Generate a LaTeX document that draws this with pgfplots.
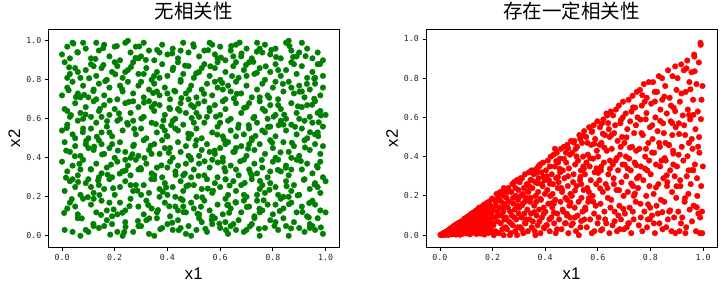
\documentclass[border=0pt]{standalone}
\usepackage{fontspec}
\setmainfont{Liberation Sans}
\newfontfamily\cjk{Noto Sans CJK SC}
\newfontfamily\tickfont{DejaVu Sans Mono}
\usepackage{pgfplots}
\pgfplotsset{compat=1.18}
\definecolor{mplgreen}{HTML}{008000}
\definecolor{mplred}{HTML}{FF0000}
\definecolor{ticktext}{HTML}{262626}
\pgfplotsset{
  myaxis/.style={
    scale only axis, width=291pt, height=218pt,
    anchor=south west,
    axis line style={line width=0.8pt, black},
    tick align=outside, major tick length=3.5pt,
    tick style={line width=0.8pt, black},
    xtick={0,0.2,0.4,0.6,0.8,1.0},
    ytick={0,0.2,0.4,0.6,0.8,1.0},
    xticklabels={0.0,0.2,0.4,0.6,0.8,1.0},
    yticklabels={0.0,0.2,0.4,0.6,0.8,1.0},
    xtick pos=bottom, ytick pos=left,
    tick label style={font=\tickfont\fontsize{8.3}{9}\selectfont, text=ticktext},
    title style={font=\cjk\fontsize{19.5}{20}\selectfont, at={(axis description cs:0.5,1.021)}, anchor=base},
    xlabel style={font=\fontsize{16.7}{17}\selectfont, at={(axis description cs:0.5,-0.147)}, anchor=base},
    ylabel style={font=\fontsize{16.7}{17}\selectfont, at={(axis description cs:-0.097,0.5)}, anchor=base},
    xlabel={x1}, ylabel={x2},
  }
}
\begin{document}
\begin{tikzpicture}
\useasboundingbox (0,0) rectangle (725pt,288pt);
\begin{axis}[myaxis, at={(48.3pt,40.7pt)},
  xmin=-0.052, xmax=1.052, ymin=-0.059, ymax=1.059,
  title={无相关性}]
\addplot[only marks, mark=*, mark size=2.8pt, color=mplgreen, mark options={fill=mplgreen, draw=mplgreen}] coordinates {
(0.01,0.03) (0.04,0.02) (0.06,0.09) (0.07,0.00) (0.09,0.03)
(0.10,0.02) (0.12,0.05) (0.14,0.04) (0.16,0.05) (0.17,0.08) (0.19,0.06)
(0.21,0.02) (0.23,0.00) (0.24,0.07) (0.27,0.02) (0.29,0.05)
(0.30,0.05) (0.32,0.08) (0.35,0.00) (0.36,0.09) (0.38,0.04) (0.33,0.01)
(0.40,0.06) (0.42,0.03) (0.44,0.08) (0.47,0.01) (0.48,0.05) (0.49,0.00) (0.45,0.04)
(0.51,0.03) (0.53,0.07) (0.55,0.02) (0.57,0.06) (0.58,0.09) (0.52,0.09)
(0.60,0.04) (0.62,0.07) (0.63,0.01) (0.64,0.05) (0.65,0.06) (0.67,0.08) (0.69,0.02) (0.66,0.03)
(0.70,0.03) (0.72,0.06) (0.75,0.00) (0.77,0.04) (0.79,0.08) (0.73,0.09)
(0.81,0.07) (0.82,0.03) (0.85,0.05) (0.86,0.00) (0.88,0.07) (0.84,0.09)
(0.90,0.04) (0.92,0.02) (0.94,0.06) (0.95,0.05) (0.96,0.03) (0.99,0.01) (0.94,0.04) (0.97,0.09)
(0.02,0.14) (0.05,0.15) (0.06,0.11) (0.08,0.19) (0.03,0.17)
(0.11,0.16) (0.13,0.12) (0.15,0.18) (0.17,0.13) (0.19,0.10) (0.12,0.19) (0.18,0.17)
(0.22,0.17) (0.24,0.13) (0.26,0.19) (0.29,0.15) (0.21,0.11)
(0.31,0.11) (0.32,0.18) (0.34,0.14) (0.36,0.12) (0.39,0.17) (0.37,0.20)
(0.41,0.10) (0.43,0.15) (0.45,0.19) (0.47,0.12) (0.49,0.17) (0.44,0.13) (0.46,0.15)
(0.50,0.14) (0.52,0.11) (0.54,0.18) (0.56,0.13) (0.59,0.16) (0.57,0.10)
(0.61,0.11) (0.62,0.19) (0.64,0.14) (0.66,0.17) (0.68,0.12) (0.63,0.16) (0.69,0.18)
(0.71,0.15) (0.73,0.10) (0.74,0.18) (0.76,0.13) (0.78,0.16) (0.75,0.12)
(0.80,0.11) (0.83,0.19) (0.84,0.14) (0.87,0.17) (0.89,0.12) (0.81,0.16) (0.86,0.20)
(0.91,0.15) (0.93,0.10) (0.95,0.18) (0.98,0.13) (1.00,0.12) (0.96,0.16)
(0.01,0.23) (0.03,0.28) (0.05,0.25) (0.07,0.21) (0.09,0.27) (0.04,0.29)
(0.10,0.29) (0.12,0.22) (0.14,0.26) (0.16,0.24) (0.18,0.29) (0.11,0.25)
(0.20,0.21) (0.22,0.25) (0.24,0.28) (0.27,0.23) (0.26,0.26) (0.28,0.26)
(0.31,0.26) (0.33,0.22) (0.35,0.29) (0.37,0.24) (0.39,0.27) (0.30,0.21)
(0.40,0.21) (0.42,0.25) (0.45,0.28) (0.46,0.23) (0.48,0.26) (0.49,0.30) (0.43,0.20)
(0.51,0.20) (0.53,0.24) (0.55,0.29) (0.57,0.22) (0.58,0.27) (0.50,0.26)
(0.60,0.25) (0.63,0.21) (0.65,0.28) (0.66,0.23) (0.68,0.26) (0.62,0.29) (0.69,0.21)
(0.70,0.20) (0.72,0.29) (0.75,0.24) (0.77,0.22) (0.79,0.27) (0.76,0.26) (0.74,0.21)
(0.81,0.25) (0.82,0.21) (0.85,0.28) (0.87,0.23) (0.88,0.26) (0.84,0.20)
(0.90,0.21) (0.92,0.29) (0.94,0.24) (0.96,0.27) (0.98,0.22) (1.00,0.28) (0.97,0.25)
(0.00,0.38) (0.02,0.33) (0.04,0.36) (0.06,0.31) (0.08,0.39) (0.07,0.34)
(0.11,0.34) (0.13,0.37) (0.15,0.32) (0.17,0.35) (0.19,0.30) (0.14,0.30)
(0.21,0.38) (0.23,0.33) (0.25,0.36) (0.26,0.31) (0.28,0.39) (0.24,0.39) (0.29,0.34)
(0.30,0.34) (0.32,0.37) (0.34,0.32) (0.36,0.35) (0.38,0.30) (0.35,0.31)
(0.41,0.38) (0.43,0.33) (0.44,0.36) (0.46,0.31) (0.49,0.39) (0.40,0.35) (0.47,0.37)
(0.50,0.34) (0.52,0.37) (0.54,0.31) (0.56,0.35) (0.59,0.30) (0.57,0.39)
(0.61,0.38) (0.62,0.33) (0.64,0.36) (0.67,0.31) (0.69,0.39) (0.66,0.34)
(0.71,0.34) (0.73,0.37) (0.74,0.32) (0.76,0.35) (0.78,0.30) (0.79,0.33) (0.72,0.31)
(0.80,0.38) (0.83,0.33) (0.85,0.36) (0.86,0.31) (0.89,0.39) (0.82,0.39) (0.87,0.34)
(0.91,0.34) (0.93,0.37) (0.95,0.32) (0.97,0.35) (0.99,0.30) (0.98,0.38)
(0.01,0.48) (0.03,0.43) (0.05,0.46) (0.07,0.41) (0.09,0.47)
(0.12,0.44) (0.14,0.49) (0.16,0.42) (0.18,0.45) (0.10,0.45) (0.19,0.47) (0.15,0.47)
(0.20,0.40) (0.22,0.48) (0.24,0.43) (0.27,0.46) (0.29,0.41) (0.26,0.40)
(0.31,0.49) (0.33,0.44) (0.35,0.47) (0.37,0.42) (0.39,0.45) (0.38,0.49) (0.34,0.42)
(0.42,0.40) (0.44,0.48) (0.45,0.43) (0.47,0.46) (0.48,0.41) (0.41,0.45)
(0.51,0.49) (0.53,0.44) (0.55,0.47) (0.58,0.42) (0.52,0.41) (0.56,0.43)
(0.60,0.45) (0.61,0.40) (0.63,0.48) (0.65,0.43) (0.68,0.46) (0.66,0.45) (0.62,0.47)
(0.70,0.41) (0.72,0.49) (0.73,0.44) (0.75,0.47) (0.77,0.42) (0.71,0.47) (0.79,0.49)
(0.80,0.45) (0.81,0.40) (0.84,0.48) (0.86,0.43) (0.88,0.46) (0.87,0.40)
(0.90,0.41) (0.92,0.49) (0.94,0.44) (0.96,0.47) (0.98,0.42) (0.99,0.46)
(0.00,0.54) (0.02,0.57) (0.04,0.52) (0.06,0.59) (0.08,0.55) (0.05,0.50)
(0.10,0.50) (0.13,0.58) (0.15,0.53) (0.17,0.56) (0.19,0.51) (0.11,0.55) (0.18,0.53)
(0.21,0.59) (0.23,0.54) (0.25,0.57) (0.28,0.52) (0.27,0.59)
(0.30,0.55) (0.32,0.50) (0.34,0.58) (0.36,0.53) (0.38,0.56) (0.39,0.54)
(0.40,0.51) (0.42,0.59) (0.44,0.54) (0.46,0.57) (0.49,0.52) (0.48,0.50) (0.43,0.55)
(0.51,0.55) (0.53,0.50) (0.54,0.58) (0.57,0.53) (0.59,0.56) (0.50,0.58)
(0.61,0.51) (0.63,0.59) (0.64,0.54) (0.67,0.57) (0.69,0.52) (0.60,0.58) (0.66,0.51)
(0.71,0.55) (0.72,0.50) (0.74,0.58) (0.77,0.53) (0.79,0.56) (0.76,0.54)
(0.81,0.51) (0.83,0.59) (0.85,0.54) (0.87,0.57) (0.89,0.52) (0.84,0.57)
(0.91,0.55) (0.93,0.50) (0.95,0.58) (0.97,0.53) (0.99,0.56) (0.92,0.59) (0.96,0.52)
(0.01,0.65) (0.03,0.61) (0.05,0.68) (0.07,0.63) (0.09,0.66) (0.08,0.60) (0.02,0.64)
(0.11,0.61) (0.12,0.69) (0.14,0.64) (0.16,0.67) (0.18,0.62) (0.15,0.61)
(0.20,0.65) (0.22,0.60) (0.24,0.68) (0.26,0.63) (0.29,0.66) (0.27,0.69)
(0.31,0.61) (0.33,0.69) (0.35,0.64) (0.37,0.67) (0.39,0.62) (0.34,0.66)
(0.41,0.65) (0.43,0.60) (0.45,0.68) (0.47,0.63) (0.44,0.65) (0.49,0.67)
(0.50,0.66) (0.52,0.61) (0.54,0.69) (0.56,0.64) (0.58,0.67) (0.55,0.61) (0.51,0.63)
(0.60,0.62) (0.62,0.65) (0.64,0.60) (0.66,0.68) (0.68,0.63) (0.61,0.69)
(0.70,0.66) (0.73,0.61) (0.75,0.69) (0.77,0.64) (0.79,0.67) (0.78,0.60) (0.71,0.68)
(0.81,0.62) (0.83,0.65) (0.85,0.60) (0.87,0.68) (0.89,0.63) (0.82,0.67)
(0.91,0.66) (0.94,0.61) (0.96,0.69) (0.98,0.64) (1.00,0.62) (0.93,0.67) (0.90,0.60) (0.97,0.63)
(0.00,0.72) (0.02,0.76) (0.04,0.79) (0.06,0.73) (0.08,0.77) (0.07,0.71)
(0.10,0.71) (0.12,0.75) (0.14,0.78) (0.16,0.72) (0.18,0.76) (0.13,0.70)
(0.21,0.70) (0.23,0.74) (0.25,0.79) (0.27,0.73) (0.29,0.77) (0.22,0.77)
(0.31,0.71) (0.33,0.75) (0.35,0.78) (0.37,0.72) (0.39,0.76) (0.30,0.79) (0.36,0.74)
(0.41,0.70) (0.43,0.74) (0.45,0.79) (0.47,0.73) (0.49,0.77) (0.40,0.73) (0.48,0.70)
(0.51,0.71) (0.53,0.75) (0.55,0.78) (0.57,0.72) (0.59,0.76) (0.58,0.79)
(0.62,0.70) (0.64,0.74) (0.66,0.79) (0.68,0.73) (0.63,0.77) (0.61,0.75)
(0.70,0.77) (0.72,0.71) (0.74,0.75) (0.76,0.78) (0.78,0.72) (0.75,0.71)
(0.80,0.76) (0.82,0.70) (0.84,0.74) (0.86,0.79) (0.88,0.73) (0.81,0.79) (0.87,0.76)
(0.90,0.77) (0.92,0.71) (0.94,0.75) (0.96,0.78) (0.98,0.72) (0.99,0.76) (0.91,0.74)
(0.01,0.89) (0.03,0.83) (0.05,0.86) (0.07,0.81) (0.09,0.85) (0.06,0.84) (0.02,0.81)
(0.11,0.88) (0.13,0.82) (0.15,0.86) (0.17,0.80) (0.19,0.84) (0.12,0.87)
(0.21,0.87) (0.23,0.81) (0.25,0.85) (0.27,0.89) (0.29,0.83) (0.20,0.89) (0.24,0.84)
(0.32,0.86) (0.34,0.80) (0.36,0.84) (0.38,0.88) (0.37,0.81) (0.31,0.83)
(0.40,0.82) (0.42,0.85) (0.44,0.89) (0.46,0.83) (0.48,0.87) (0.45,0.80)
(0.50,0.81) (0.52,0.84) (0.54,0.88) (0.56,0.82) (0.58,0.86) (0.53,0.86) (0.59,0.89)
(0.60,0.80) (0.62,0.84) (0.65,0.87) (0.67,0.81) (0.69,0.85) (0.66,0.89)
(0.71,0.89) (0.73,0.83) (0.75,0.86) (0.77,0.80) (0.79,0.84) (0.70,0.82)
(0.81,0.88) (0.83,0.82) (0.85,0.85) (0.87,0.89) (0.89,0.83) (0.82,0.85) (0.88,0.88)
(0.91,0.87) (0.93,0.81) (0.95,0.84) (0.97,0.88) (0.99,0.82) (0.96,0.81)
(0.00,0.93) (0.02,0.97) (0.04,0.99) (0.06,0.94) (0.08,0.99) (0.09,0.96) (0.03,0.91)
(0.11,0.91) (0.14,0.95) (0.16,0.98) (0.18,0.92) (0.13,0.99)
(0.20,0.97) (0.22,0.90) (0.24,0.99) (0.26,0.94) (0.28,0.97) (0.29,0.91) (0.25,1.00)
(0.30,0.92) (0.31,0.99) (0.33,0.95) (0.35,0.90) (0.38,0.98) (0.37,0.94)
(0.40,0.93) (0.42,0.96) (0.44,0.91) (0.46,0.99) (0.48,0.94) (0.45,0.95)
(0.50,0.97) (0.52,0.92) (0.54,0.95) (0.56,0.99) (0.58,0.93) (0.59,0.91) (0.57,0.98)
(0.60,0.97) (0.62,0.90) (0.64,0.95) (0.66,0.98) (0.68,0.92) (0.65,0.92)
(0.70,0.96) (0.72,0.91) (0.74,0.99) (0.76,0.94) (0.77,0.98) (0.79,0.93) (0.75,0.96)
(0.81,0.96) (0.83,0.91) (0.85,0.99) (0.87,0.95) (0.89,0.92) (0.86,1.00)
(0.91,0.99) (0.93,0.96) (0.95,0.91) (0.97,0.94) (0.99,0.90) (0.90,0.94)
(0.053,0.712) (0.137,0.284) (0.922,0.453) (0.418,0.067) (0.681,0.935) (0.274,0.548) (0.765,0.182) (0.349,0.819) (0.591,0.376) (0.016,0.437) (0.843,0.621) (0.472,0.254) (0.208,0.973) (0.634,0.118) (0.957,0.806) (0.385,0.592) (0.119,0.061) (0.706,0.447) (0.563,0.869) (0.241,0.335) (0.894,0.207) (0.327,0.158) (0.079,0.531) (0.652,0.704) (0.498,0.982) (0.781,0.558) (0.164,0.793) (0.936,0.094) (0.405,0.426) (0.573,0.231)
(0.027,0.864) (0.288,0.076) (0.819,0.338) (0.446,0.641) (0.693,0.271) (0.152,0.417) (0.974,0.582) (0.361,0.953) (0.527,0.149) (0.739,0.836) (0.098,0.198) (0.615,0.492) (0.254,0.687) (0.877,0.917) (0.431,0.312) (0.183,0.006) (0.726,0.604) (0.539,0.728) (0.313,0.399) (0.958,0.263) (0.066,0.369) (0.806,0.051) (0.467,0.873) (0.622,0.029) (0.229,0.118) (0.352,0.677) (0.901,0.739) (0.144,0.651) (0.758,0.389) (0.584,0.611)
(0.037,0.188) (0.479,0.524) (0.861,0.162) (0.212,0.437) (0.676,0.382) (0.395,0.248) (0.924,0.921) (0.127,0.907) (0.544,0.036) (0.794,0.953) (0.301,0.601) (0.658,0.173) (0.018,0.553) (0.751,0.281) (0.426,0.744) (0.967,0.359) (0.194,0.244) (0.603,0.914) (0.336,0.462) (0.884,0.559) (0.075,0.089) (0.518,0.307) (0.713,0.049) (0.262,0.866) (0.949,0.672) (0.407,0.151) (0.171,0.588) (0.829,0.428) (0.559,0.655) (0.286,0.231)
(0.645,0.819) (0.043,0.986) (0.373,0.034) (0.912,0.122) (0.228,0.752) (0.786,0.708) (0.487,0.402) (0.109,0.342) (0.668,0.554) (0.318,0.902) (0.852,0.254) (0.532,0.197) (0.196,0.135) (0.979,0.881) (0.414,0.568) (0.061,0.276) (0.734,0.512) (0.597,0.062) (0.267,0.418) (0.838,0.779) (0.156,0.962) (0.453,0.706) (0.701,0.148) (0.941,0.531) (0.339,0.291) (0.089,0.622) (0.616,0.347) (0.773,0.869) (0.236,0.019) (0.509,0.833)
(0.982,0.043) (0.132,0.508) (0.691,0.656) (0.364,0.132) (0.803,0.611) (0.025,0.746) (0.458,0.183) (0.579,0.437) (0.219,0.319) (0.917,0.287) (0.346,0.732) (0.747,0.036) (0.103,0.808) (0.636,0.258) (0.492,0.604) (0.872,0.477) (0.181,0.694) (0.554,0.952) (0.293,0.971) (0.715,0.322) (0.049,0.408) (0.422,0.862) (0.957,0.703) (0.247,0.579) (0.608,0.784) (0.826,0.127) (0.377,0.361) (0.142,0.209) (0.674,0.991) (0.514,0.113)
(0.761,0.651) (0.008,0.117) (0.397,0.512) (0.863,0.973) (0.256,0.152) (0.589,0.519) (0.122,0.457) (0.938,0.168) (0.443,0.029) (0.698,0.876) (0.311,0.683) (0.787,0.236) (0.058,0.942) (0.541,0.382) (0.906,0.383) (0.202,0.828) (0.655,0.431) (0.382,0.226) (0.812,0.917) (0.148,0.107) (0.483,0.749) (0.972,0.511) (0.273,0.467) (0.627,0.157) (0.084,0.723) (0.739,0.944) (0.356,0.573) (0.517,0.678) (0.895,0.664) (0.186,0.365)
(0.621,0.289) (0.034,0.619) (0.466,0.319) (0.849,0.349) (0.279,0.912) (0.708,0.567) (0.157,0.876) (0.568,0.081) (0.418,0.935) (0.929,0.779) (0.241,0.046) (0.663,0.728) (0.092,0.487) (0.797,0.478) (0.331,0.089) (0.982,0.617) (0.506,0.463) (0.173,0.313) (0.749,0.139) (0.407,0.656) (0.869,0.038) (0.119,0.742) (0.642,0.973) (0.298,0.348) (0.553,0.242) (0.015,0.298) (0.822,0.567) (0.461,0.121) (0.726,0.892) (0.216,0.628)
};
\end{axis}
\begin{axis}[myaxis, at={(426pt,40.5pt)},
  xmin=-0.053, xmax=1.053, ymin=-0.063, ymax=1.048,
  title={存在一定相关性}]
\addplot[only marks, mark=*, mark size=2.8pt, color=mplred, mark options={fill=mplred, draw=mplred}] coordinates {
(0.002,0.001) (0.004,0.003) (0.006,0.002) (0.008,0.005) (0.009,0.001) (0.011,0.007) (0.012,0.003) (0.014,0.010) (0.016,0.004) (0.017,0.012) (0.019,0.008) (0.021,0.002) (0.022,0.015) (0.024,0.009) (0.026,0.020) (0.027,0.005) (0.029,0.013) (0.031,0.024) (0.032,0.001) (0.034,0.018) (0.036,0.030) (0.037,0.008) (0.039,0.022) (0.041,0.035) (0.042,0.012) (0.044,0.027) (0.046,0.004) (0.047,0.040) (0.049,0.019) (0.048,0.031)
(0.051,0.021) (0.052,0.046) (0.054,0.007) (0.055,0.033) (0.057,0.014) (0.058,0.052) (0.060,0.026) (0.061,0.003) (0.063,0.041) (0.064,0.018) (0.066,0.059) (0.067,0.030) (0.069,0.010) (0.070,0.048) (0.072,0.022) (0.073,0.064) (0.075,0.036) (0.076,0.002) (0.078,0.055) (0.079,0.015) (0.081,0.070) (0.082,0.040) (0.084,0.027) (0.085,0.006) (0.087,0.061) (0.088,0.033) (0.090,0.078) (0.091,0.012) (0.093,0.050) (0.094,0.085) (0.096,0.024) (0.097,0.066) (0.099,0.041)
(0.101,0.009) (0.103,0.057) (0.104,0.093) (0.106,0.031) (0.107,0.072) (0.109,0.016) (0.110,0.048) (0.112,0.101) (0.114,0.004) (0.115,0.083) (0.117,0.037) (0.118,0.061) (0.120,0.110) (0.121,0.022) (0.123,0.090) (0.125,0.045) (0.126,0.068) (0.128,0.012) (0.129,0.117) (0.131,0.053) (0.133,0.098) (0.134,0.029) (0.136,0.076) (0.137,0.125) (0.139,0.006) (0.141,0.064) (0.142,0.106) (0.144,0.040) (0.145,0.133) (0.147,0.085) (0.148,0.018) (0.149,0.140)
(0.151,0.050) (0.153,0.121) (0.154,0.008) (0.156,0.095) (0.157,0.034) (0.159,0.145) (0.161,0.072) (0.162,0.019) (0.164,0.112) (0.166,0.058) (0.167,0.155) (0.169,0.003) (0.170,0.087) (0.172,0.130) (0.174,0.042) (0.175,0.099) (0.177,0.163) (0.179,0.026) (0.180,0.070) (0.182,0.140) (0.184,0.011) (0.185,0.118) (0.187,0.055) (0.188,0.172) (0.190,0.083) (0.192,0.031) (0.193,0.150) (0.195,0.107) (0.197,0.064) (0.198,0.186) (0.199,0.015)
(0.201,0.13) (0.203,0.05) (0.206,0.18) (0.208,0.09) (0.211,0.02) (0.213,0.15) (0.215,0.21) (0.218,0.07) (0.220,0.11) (0.222,0.19) (0.224,0.01) (0.227,0.14) (0.229,0.22) (0.231,0.06) (0.233,0.17) (0.235,0.10) (0.237,0.03) (0.239,0.20) (0.241,0.12) (0.243,0.24) (0.245,0.08) (0.247,0.16) (0.249,0.04) (0.205,0.00) (0.217,0.12) (0.226,0.10) (0.234,0.21) (0.242,0.00) (0.212,0.17) (0.238,0.14) (0.246,0.22)
(0.251,0.09) (0.253,0.19) (0.255,0.03) (0.258,0.14) (0.260,0.24) (0.262,0.07) (0.264,0.17) (0.267,0.12) (0.269,0.01) (0.271,0.22) (0.273,0.10) (0.275,0.26) (0.277,0.05) (0.280,0.16) (0.282,0.27) (0.284,0.13) (0.286,0.02) (0.288,0.20) (0.290,0.08) (0.292,0.28) (0.294,0.15) (0.296,0.04) (0.298,0.23) (0.299,0.11) (0.257,0.22) (0.266,0.00) (0.278,0.19) (0.287,0.24) (0.293,0.00) (0.270,0.06) (0.283,0.09) (0.297,0.18)
(0.301,0.14) (0.303,0.27) (0.305,0.04) (0.308,0.20) (0.310,0.09) (0.312,0.29) (0.314,0.16) (0.317,0.01) (0.319,0.24) (0.321,0.11) (0.323,0.31) (0.325,0.06) (0.327,0.19) (0.330,0.26) (0.332,0.13) (0.334,0.02) (0.336,0.22) (0.338,0.32) (0.340,0.08) (0.342,0.17) (0.344,0.28) (0.346,0.11) (0.348,0.33) (0.349,0.04) (0.306,0.29) (0.315,0.21) (0.328,0.08) (0.339,0.25) (0.345,0.19) (0.322,0.17) (0.311,0.03)
(0.351,0.24) (0.353,0.07) (0.356,0.31) (0.358,0.15) (0.360,0.02) (0.362,0.27) (0.364,0.20) (0.367,0.10) (0.369,0.34) (0.371,0.05) (0.373,0.22) (0.375,0.29) (0.377,0.13) (0.380,0.36) (0.382,0.01) (0.384,0.18) (0.386,0.32) (0.388,0.09) (0.390,0.25) (0.392,0.37) (0.394,0.14) (0.396,0.04) (0.398,0.28) (0.399,0.21) (0.357,0.33) (0.366,0.17) (0.378,0.07) (0.387,0.26) (0.395,0.11) (0.363,0.00) (0.374,0.35)
(0.401,0.12) (0.403,0.33) (0.405,0.05) (0.408,0.23) (0.410,0.38) (0.412,0.16) (0.414,0.28) (0.417,0.02) (0.419,0.20) (0.421,0.40) (0.423,0.09) (0.425,0.31) (0.427,0.14) (0.430,0.26) (0.432,0.41) (0.434,0.06) (0.436,0.35) (0.438,0.18) (0.440,0.01) (0.442,0.29) (0.444,0.42) (0.446,0.11) (0.448,0.24) (0.449,0.37) (0.406,0.30) (0.416,0.08) (0.428,0.21) (0.437,0.44) (0.445,0.03) (0.418,0.35) (0.433,0.16)
(0.451,0.27) (0.453,0.08) (0.456,0.39) (0.458,0.17) (0.460,0.44) (0.462,0.03) (0.464,0.22) (0.467,0.33) (0.469,0.12) (0.471,0.45) (0.473,0.29) (0.475,0.06) (0.477,0.19) (0.480,0.37) (0.482,0.10) (0.484,0.46) (0.486,0.25) (0.488,0.01) (0.490,0.34) (0.492,0.15) (0.494,0.41) (0.496,0.21) (0.498,0.48) (0.499,0.05) (0.457,0.32) (0.466,0.13) (0.479,0.42) (0.487,0.30) (0.495,0.09) (0.461,0.24) (0.483,0.18)
(0.501,0.20) (0.503,0.42) (0.505,0.06) (0.508,0.31) (0.510,0.48) (0.512,0.14) (0.514,0.36) (0.517,0.02) (0.519,0.25) (0.521,0.45) (0.523,0.10) (0.525,0.38) (0.527,0.17) (0.530,0.51) (0.532,0.28) (0.534,0.04) (0.536,0.33) (0.538,0.19) (0.540,0.47) (0.542,0.12) (0.544,0.40) (0.546,0.23) (0.548,0.53) (0.549,0.08) (0.506,0.27) (0.516,0.44) (0.528,0.00) (0.537,0.26) (0.545,0.35) (0.513,0.09) (0.533,0.49)
(0.551,0.31) (0.553,0.13) (0.556,0.50) (0.558,0.04) (0.560,0.24) (0.562,0.41) (0.564,0.17) (0.567,0.55) (0.569,0.35) (0.571,0.08) (0.573,0.28) (0.575,0.46) (0.577,0.01) (0.580,0.20) (0.582,0.39) (0.584,0.56) (0.586,0.11) (0.588,0.32) (0.590,0.49) (0.592,0.15) (0.594,0.26) (0.596,0.43) (0.598,0.58) (0.599,0.06) (0.557,0.37) (0.566,0.22) (0.578,0.53) (0.587,0.02) (0.595,0.34) (0.561,0.47) (0.583,0.17)
(0.601,0.40) (0.603,0.09) (0.606,0.28) (0.608,0.55) (0.610,0.16) (0.612,0.33) (0.614,0.47) (0.617,0.03) (0.619,0.22) (0.621,0.59) (0.623,0.37) (0.625,0.12) (0.627,0.51) (0.630,0.26) (0.632,0.06) (0.634,0.43) (0.636,0.61) (0.638,0.19) (0.640,0.31) (0.642,0.54) (0.644,0.01) (0.646,0.38) (0.648,0.14) (0.649,0.63) (0.607,0.46) (0.616,0.57) (0.628,0.08) (0.637,0.24) (0.645,0.50) (0.613,0.35) (0.633,0.62)
(0.651,0.18) (0.653,0.44) (0.656,0.05) (0.658,0.61) (0.660,0.29) (0.662,0.52) (0.664,0.12) (0.667,0.38) (0.669,0.64) (0.671,0.23) (0.673,0.02) (0.675,0.48) (0.677,0.33) (0.680,0.66) (0.682,0.15) (0.684,0.41) (0.686,0.57) (0.688,0.08) (0.690,0.27) (0.692,0.50) (0.694,0.36) (0.696,0.68) (0.698,0.20) (0.699,0.03) (0.657,0.36) (0.666,0.56) (0.678,0.10) (0.687,0.45) (0.695,0.60) (0.661,0.26) (0.683,0.03)
(0.701,0.47) (0.703,0.11) (0.706,0.62) (0.708,0.30) (0.710,0.04) (0.712,0.54) (0.714,0.22) (0.717,0.69) (0.719,0.39) (0.721,0.14) (0.723,0.58) (0.725,0.33) (0.727,0.01) (0.730,0.45) (0.732,0.71) (0.734,0.25) (0.736,0.08) (0.738,0.52) (0.740,0.37) (0.742,0.65) (0.744,0.17) (0.746,0.43) (0.748,0.73) (0.749,0.29) (0.707,0.40) (0.716,0.06) (0.728,0.63) (0.737,0.20) (0.745,0.56) (0.713,0.34) (0.733,0.12)
(0.751,0.60) (0.753,0.24) (0.756,0.05) (0.758,0.44) (0.760,0.74) (0.762,0.16) (0.764,0.35) (0.767,0.66) (0.769,0.02) (0.771,0.51) (0.773,0.28) (0.775,0.77) (0.777,0.12) (0.780,0.40) (0.782,0.59) (0.784,0.20) (0.786,0.70) (0.788,0.33) (0.790,0.08) (0.792,0.47) (0.794,0.78) (0.796,0.25) (0.798,0.55) (0.799,0.14) (0.757,0.30) (0.766,0.52) (0.778,0.68) (0.787,0.04) (0.795,0.38) (0.763,0.09) (0.783,0.44)
(0.801,0.31) (0.803,0.67) (0.806,0.10) (0.808,0.49) (0.810,0.78) (0.812,0.21) (0.814,0.42) (0.817,0.01) (0.819,0.60) (0.821,0.36) (0.823,0.15) (0.825,0.73) (0.827,0.53) (0.830,0.26) (0.832,0.81) (0.834,0.06) (0.836,0.45) (0.838,0.64) (0.840,0.18) (0.842,0.38) (0.844,0.80) (0.846,0.03) (0.848,0.57) (0.849,0.29) (0.807,0.56) (0.816,0.73) (0.828,0.11) (0.837,0.35) (0.845,0.69) (0.813,0.06) (0.833,0.47)
(0.851,0.52) (0.853,0.17) (0.856,0.76) (0.858,0.38) (0.860,0.04) (0.862,0.62) (0.864,0.27) (0.867,0.84) (0.869,0.46) (0.871,0.12) (0.873,0.70) (0.875,0.33) (0.877,0.58) (0.880,0.02) (0.882,0.22) (0.884,0.81) (0.886,0.43) (0.888,0.65) (0.890,0.09) (0.892,0.30) (0.894,0.86) (0.896,0.55) (0.898,0.19) (0.899,0.74) (0.857,0.47) (0.866,0.08) (0.878,0.66) (0.887,0.36) (0.895,0.01) (0.863,0.25) (0.883,0.51)
(0.901,0.35) (0.903,0.80) (0.906,0.12) (0.908,0.57) (0.910,0.02) (0.912,0.68) (0.914,0.25) (0.917,0.87) (0.919,0.45) (0.921,0.09) (0.923,0.61) (0.925,0.38) (0.927,0.84) (0.930,0.17) (0.932,0.51) (0.934,0.73) (0.936,0.04) (0.938,0.30) (0.940,0.89) (0.942,0.64) (0.944,0.21) (0.946,0.47) (0.948,0.78) (0.949,0.13) (0.907,0.41) (0.916,0.06) (0.928,0.56) (0.937,0.85) (0.945,0.33) (0.913,0.28) (0.933,0.01)
(0.951,0.59) (0.953,0.26) (0.956,0.83) (0.958,0.07) (0.960,0.44) (0.962,0.69) (0.964,0.15) (0.967,0.91) (0.969,0.36) (0.971,0.54) (0.973,0.02) (0.975,0.77) (0.977,0.29) (0.980,0.63) (0.982,0.11) (0.984,0.88) (0.986,0.42) (0.988,0.01) (0.990,0.98) (0.991,0.97) (0.993,0.25) (0.994,0.69) (0.996,0.12) (0.998,0.76) (0.999,0.35) (0.957,0.49) (0.966,0.92) (0.978,0.20) (0.985,0.50) (0.997,0.01) (0.963,0.33) (0.989,0.09)
(0.312,0.152) (0.478,0.061) (0.653,0.512) (0.821,0.243) (0.947,0.612) (0.393,0.298) (0.566,0.188) (0.734,0.651) (0.887,0.416) (0.442,0.377) (0.612,0.024) (0.779,0.339) (0.968,0.835) (0.335,0.223) (0.519,0.401) (0.697,0.134) (0.853,0.706) (0.406,0.051) (0.587,0.466) (0.762,0.589) (0.931,0.188) (0.359,0.117) (0.534,0.297) (0.709,0.498) (0.875,0.126) (0.464,0.231) (0.639,0.571) (0.806,0.421) (0.981,0.451) (0.378,0.352)
(0.552,0.141) (0.727,0.263) (0.894,0.632) (0.426,0.163) (0.601,0.317) (0.769,0.713) (0.941,0.402) (0.347,0.281) (0.513,0.227) (0.688,0.587) (0.862,0.305) (0.487,0.442) (0.664,0.071) (0.837,0.582) (0.992,0.591) (0.418,0.262) (0.577,0.526) (0.746,0.356) (0.918,0.722) (0.323,0.063) (0.496,0.166) (0.672,0.393) (0.845,0.117) (0.455,0.338) (0.625,0.446) (0.791,0.157) (0.958,0.332) (0.382,0.184) (0.544,0.507) (0.718,0.061)
(0.883,0.571) (0.433,0.114) (0.609,0.238) (0.785,0.622) (0.952,0.743) (0.367,0.318) (0.537,0.072) (0.702,0.359) (0.871,0.459) (0.471,0.389) (0.646,0.338) (0.817,0.681) (0.976,0.142) (0.396,0.035) (0.571,0.392) (0.741,0.212) (0.909,0.515) (0.342,0.188) (0.509,0.472) (0.681,0.229) (0.854,0.393) (0.448,0.296) (0.619,0.517) (0.797,0.081) (0.963,0.613) (0.371,0.264) (0.547,0.339) (0.722,0.446) (0.899,0.249) (0.482,0.109)
};
\end{axis}
\end{tikzpicture}
\end{document}
